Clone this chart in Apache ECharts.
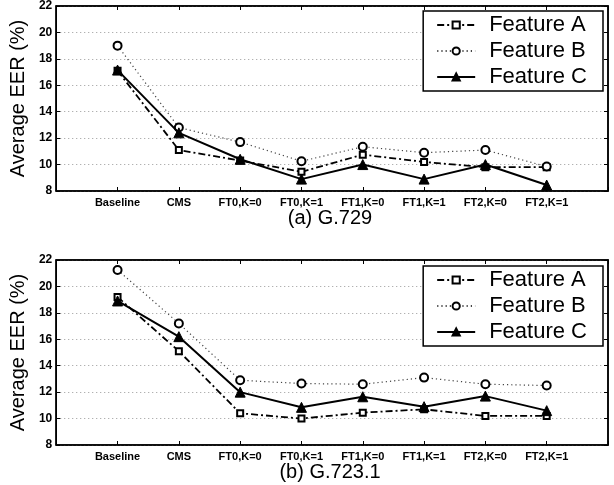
<!DOCTYPE html>
<html><head><meta charset="utf-8">
<script src="https://cdn.jsdelivr.net/npm/echarts@6/dist/echarts.min.js"></script>
<style>html,body{margin:0;padding:0;background:#fff}#c{width:614px;height:485px}</style>
</head><body><div id="c"></div>
<script>
var categories = ['Baseline','CMS','FT0,K=0','FT0,K=1','FT1,K=0','FT1,K=1','FT2,K=0','FT2,K=1'];
var seriesNames = ['Feature A','Feature B','Feature C'];
// (a) G.729
var g729_A = [17.1, 11.1, 10.3, 9.45, 10.75, 10.2, 9.8, 9.8];
var g729_B = [19.0, 12.8, 11.7, 10.25, 11.35, 10.9, 11.1, 9.85];
var g729_C = [17.15, 12.4, 10.4, 8.9, 10.0, 8.9, 10.0, 8.45];
// (b) G.723.1
var g7231_A = [19.2, 15.1, 10.4, 10.0, 10.45, 10.7, 10.2, 10.2];
var g7231_B = [21.25, 17.2, 12.9, 12.65, 12.6, 13.1, 12.6, 12.5];
var g7231_C = [18.9, 16.2, 12.0, 10.85, 11.65, 10.9, 11.7, 10.6];
var yTicks = {min: 8, max: 22, interval: 2};
var titles = ['(a) G.729', '(b) G.723.1'];
var yName = 'Average EER (%)';

var xData = [''].concat(categories, ['']);
function pad(a){ return [null].concat(a, [null]); }
var FONT = 'Liberation Sans, Arial, Helvetica, sans-serif';

var grids = [
  {left: 52, top: 5, width: 556, height: 186},
  {left: 52, top: 260, width: 556, height: 185}
];
var xAxes = [], yAxes = [], series = [], legends = [], graphics = [];
var dataSets = [[g729_A, g729_B, g729_C], [g7231_A, g7231_B, g7231_C]];
var styles = [
  {symbol: 'rect', symbolSize: 6, lineStyle: {color: '#000', width: 1.8, type: [7, 3, 2, 3]}, itemStyle: {color: '#fff', borderColor: '#000', borderWidth: 2}},
  {symbol: 'circle', symbolSize: 8, lineStyle: {color: '#444', width: 1.2, type: [1.2, 3]}, itemStyle: {color: '#fff', borderColor: '#000', borderWidth: 2}},
  {symbol: 'triangle', symbolSize: 10, lineStyle: {color: '#000', width: 2, type: 'solid'}, itemStyle: {color: '#000', borderColor: '#000', borderWidth: 1}}
];

grids.forEach(function(g, gi){
  g.show = true; g.borderColor = '#000'; g.borderWidth = 1.5; g.containLabel = false;
  xAxes.push({
    type: 'category', gridIndex: gi, data: xData, boundaryGap: false,
    axisLine: {show: true, lineStyle: {color: '#000', width: 1.5}},
    axisTick: {show: true, inside: true, length: 4, lineStyle: {color: '#000'}},
    axisLabel: {color: '#000', fontFamily: FONT, fontWeight: 'bold', fontSize: 11, margin: 6, interval: 0},
    splitLine: {show: false}
  });
  xAxes.push({
    type: 'category', gridIndex: gi, data: xData, boundaryGap: false, position: 'top',
    axisLine: {show: true, lineStyle: {color: '#000', width: 1.5}},
    axisTick: {show: true, inside: true, length: 4, lineStyle: {color: '#000'}},
    axisLabel: {show: false}, splitLine: {show: false}
  });
  yAxes.push({
    type: 'value', gridIndex: gi, min: yTicks.min, max: yTicks.max, interval: yTicks.interval,
    name: yName, nameLocation: 'middle', nameGap: 20, nameRotate: 90,
    nameTextStyle: {color: '#000', fontFamily: FONT, fontSize: 20},
    axisLine: {show: true, lineStyle: {color: '#000', width: 1.5}},
    axisTick: {show: true, inside: true, length: 4, lineStyle: {color: '#000'}},
    axisLabel: {color: '#000', fontFamily: FONT, fontWeight: 'bold', fontSize: 12, margin: 4},
    splitLine: {show: true, lineStyle: {color: '#999', width: 1, type: [1, 3]}}
  });
  yAxes.push({
    type: 'value', gridIndex: gi, min: yTicks.min, max: yTicks.max, interval: yTicks.interval, position: 'right',
    axisLine: {show: true, lineStyle: {color: '#000', width: 1.5}},
    axisTick: {show: true, inside: true, length: 4, lineStyle: {color: '#000'}},
    axisLabel: {show: false}, splitLine: {show: false}
  });
  dataSets[gi].forEach(function(d, si){
    var st = styles[si];
    series.push({
      type: 'line', name: seriesNames[si], xAxisIndex: gi * 2, yAxisIndex: gi * 2,
      data: pad(d), symbol: st.symbol, symbolSize: st.symbolSize, showSymbol: true,
      lineStyle: st.lineStyle, itemStyle: st.itemStyle, z: 3 + si, animation: false,
      color: '#000'
    });
  });
  legends.push({
    data: seriesNames, orient: 'vertical', right: 11, top: g.top + 6,
    itemWidth: 38, itemHeight: 9, itemGap: 4,
    backgroundColor: '#fff', borderColor: '#000', borderWidth: 1.5, borderRadius: 0,
    padding: [3, 16, 3, 13],
    textStyle: {color: '#000', fontFamily: FONT, fontSize: 22, padding: [0, 0, 0, 9]}
  });
  graphics.push({
    type: 'text', x: g.left + g.width / 2, y: g.top + g.height + 27,
    style: {text: titles[gi], align: 'center', verticalAlign: 'middle', font: '20px ' + FONT, fill: '#000'}
  });
});

var chart = echarts.init(document.getElementById('c'), null, {renderer: 'canvas'});
chart.setOption({
  backgroundColor: '#fff', animation: false,
  grid: grids, xAxis: xAxes, yAxis: yAxes, series: series, legend: legends, graphic: graphics
});
</script></body></html>
